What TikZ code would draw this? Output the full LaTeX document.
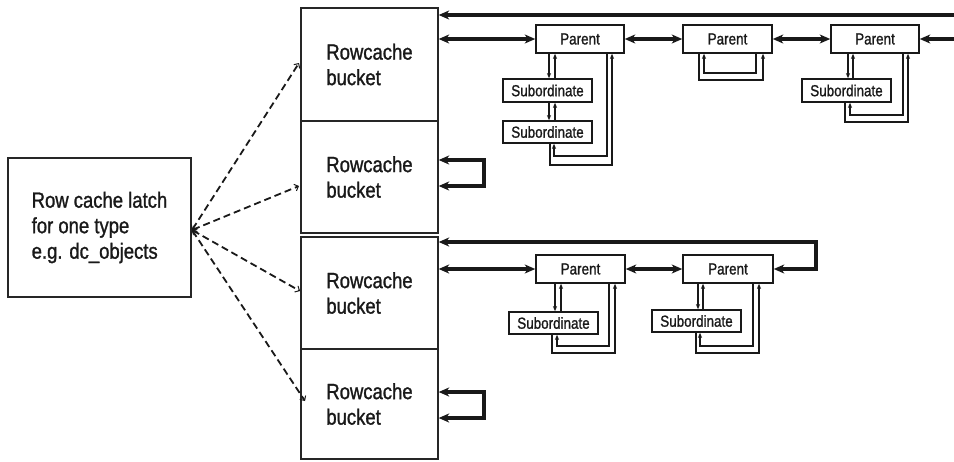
\documentclass[tikz,border=0pt]{standalone}
\usepackage{fontspec}
\setmainfont{Liberation Sans}[FakeStretch=0.84,FakeBold=1.2]
\usetikzlibrary{arrows.meta}
\begin{document}
\begin{tikzpicture}[x=1pt,y=-1pt,
  bigbox/.style={draw=black!85, line width=1.3pt, inner sep=0pt, align=left,
    font=\fontsize{22}{25.5}\selectfont, text=black!90},
  itembox/.style={draw=black!90, line width=1.5pt, inner sep=0pt,
    font=\fontsize{16}{18}\selectfont, text=black!90},
  chain/.style={line width=3.2pt, draw=black!90},
  link/.style={line width=1.5pt, draw=black!90},
  dashlink/.style={line width=1.8pt, draw=black!90, dash pattern=on 7pt off 4pt},
  bigtip/.tip={Stealth[length=10.5pt,width=9pt,inset=3pt]},
  smalltip/.tip={Stealth[length=5pt,width=4pt,inset=1pt]},
  barbtip/.tip={Straight Barb[length=3.5pt,width=7pt,line width=1pt]}]
\useasboundingbox (0,0) rectangle (954,461);

% latch and the four hash buckets
\node[bigbox, minimum width=183pt, minimum height=139pt] (latch) at (99.5,227.5)
  {Row cache latch\\for one type\\e.g. dc\_objects};
\node[bigbox, minimum width=137pt, minimum height=113pt] (b1) at (369.5,64.5) {Rowcache\\bucket};
\node[bigbox, minimum width=137pt, minimum height=112pt] (b2) at (369.5,177) {Rowcache\\bucket};
\node[bigbox, minimum width=137pt, minimum height=112pt] (b3) at (369.5,293) {Rowcache\\bucket};
\node[bigbox, minimum width=137pt, minimum height=110pt] (b4) at (369.5,404) {Rowcache\\bucket};

% parents and subordinates, first chain
\node[itembox, minimum width=88pt, minimum height=28pt] (P1) at (580,39) {Parent};
\node[itembox, minimum width=89pt, minimum height=28pt] (P2) at (727.5,39) {Parent};
\node[itembox, minimum width=88pt, minimum height=28pt] (P3) at (875,39) {Parent};
\node[itembox, minimum width=89pt, minimum height=23pt] (S11) at (547.5,90.5) {Subordinate};
\node[itembox, minimum width=89pt, minimum height=22pt] (S12) at (547.5,132) {Subordinate};
\node[itembox, minimum width=89pt, minimum height=23pt] (S31) at (846.5,90.5) {Subordinate};

% parents and subordinates, second chain
\node[itembox, minimum width=89pt, minimum height=28pt] (PA) at (580.5,269) {Parent};
\node[itembox, minimum width=90pt, minimum height=28pt] (PB) at (728,269) {Parent};
\node[itembox, minimum width=89pt, minimum height=22pt] (SA) at (553.5,323) {Subordinate};
\node[itembox, minimum width=89pt, minimum height=22pt] (SB) at (696.5,321) {Subordinate};

% dashed pointers from the latch to the buckets
\coordinate (hub) at (192,230);
\coordinate (d1) at (299,63);
\coordinate (d2) at (299,186);
\coordinate (d3) at (300,291);
\coordinate (d4) at (305,401);
\draw[dashlink, barbtip-barbtip] (hub) -- (d1);
\draw[dashlink, barbtip-barbtip] (hub) -- (d2);
\draw[dashlink, barbtip-barbtip] (hub) -- (d3);
\draw[dashlink, barbtip-barbtip] (hub) -- (d4);

% first bucket: circular list of parents
\coordinate (wrapA) at (960,15);
\coordinate (wrapB) at (960,39);
\draw[chain, -bigtip] (wrapA) -- (b1.east |- wrapA);
\draw[chain, bigtip-bigtip] (b1.east |- P1) -- (P1);
\draw[chain, bigtip-bigtip] (P1) -- (P2);
\draw[chain, bigtip-bigtip] (P2) -- (P3);
\draw[chain, -bigtip] (wrapB) -- (P3);

% empty buckets point to themselves
\draw[chain, bigtip-bigtip] (b2.east |- 0,160) -- (484,160) -- (484,186) -- (b2.east |- 0,186);
\draw[chain, bigtip-bigtip] (b4.east |- 0,392) -- (484,392) -- (484,418) -- (b4.east |- 0,418);

% third bucket: circular list of parents
\draw[chain, bigtip-bigtip] (b3.east |- 0,242) -- (816,242) -- (816,0 |- PB) -- (PB);
\draw[chain, bigtip-bigtip] (b3.east |- PA) -- (PA);
\draw[chain, bigtip-bigtip] (PA) -- (PB);

% subordinate lists of the first chain
\draw[link, -smalltip] (549,0 |- P1.south) -- (549,0 |- S11.north);
\draw[link, -smalltip] (555,0 |- S11.north) -- (555,0 |- P1.south);
\draw[link, -smalltip] (549,0 |- S11.south) -- (549,0 |- S12.north);
\draw[link, -smalltip] (555,0 |- S12.north) -- (555,0 |- S11.south);
\draw[link, -smalltip] (550,0 |- S12.south) -- (550,165) -- (612,165) -- (612,0 |- P1.south);
\draw[link, -smalltip] (607,0 |- P1.south) -- (607,156) -- (554,156) -- (554,0 |- S12.south);

\draw[link, -smalltip] (699,0 |- P2.south) -- (699,80) -- (763,80) -- (763,0 |- P2.south);
\draw[link, -smalltip] (756,0 |- P2.south) -- (756,73) -- (704,73) -- (704,0 |- P2.south);

\draw[link, -smalltip] (848,0 |- P3.south) -- (848,0 |- S31.north);
\draw[link, -smalltip] (853,0 |- S31.north) -- (853,0 |- P3.south);
\draw[link, -smalltip] (845,0 |- S31.south) -- (845,122) -- (908,122) -- (908,0 |- P3.south);
\draw[link, -smalltip] (903,0 |- P3.south) -- (903,115) -- (850,115) -- (850,0 |- S31.south);

% subordinate lists of the second chain
\draw[link, -smalltip] (555,0 |- PA.south) -- (555,0 |- SA.north);
\draw[link, -smalltip] (561,0 |- SA.north) -- (561,0 |- PA.south);
\draw[link, -smalltip] (552,0 |- SA.south) -- (552,353) -- (615,353) -- (615,0 |- PA.south);
\draw[link, -smalltip] (609,0 |- PA.south) -- (609,346) -- (557,346) -- (557,0 |- SA.south);

\draw[link, -smalltip] (698,0 |- PB.south) -- (698,0 |- SB.north);
\draw[link, -smalltip] (703,0 |- SB.north) -- (703,0 |- PB.south);
\draw[link, -smalltip] (696,0 |- SB.south) -- (696,353) -- (759,353) -- (759,0 |- PB.south);
\draw[link, -smalltip] (753,0 |- PB.south) -- (753,346) -- (700,346) -- (700,0 |- SB.south);
\end{tikzpicture}
\end{document}
